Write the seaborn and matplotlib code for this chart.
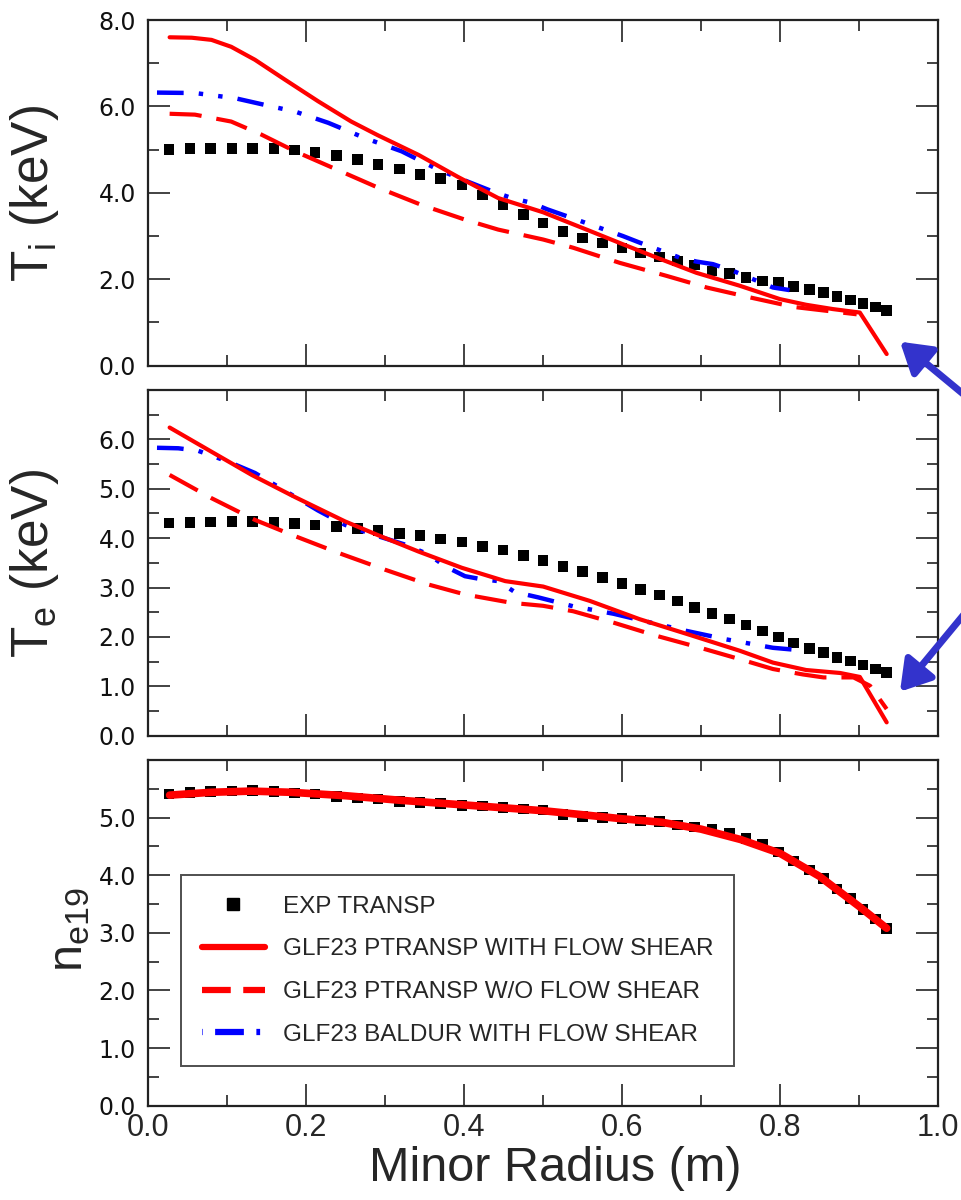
import numpy as np
import pandas as pd
import matplotlib
matplotlib.use("Agg")
import matplotlib.pyplot as plt
import matplotlib.font_manager as fm
from matplotlib.lines import Line2D
from matplotlib.ticker import MultipleLocator, FormatStrFormatter, FuncFormatter
import seaborn as sns

# ---------------- data ----------------
exp_r = [0.026, 0.053, 0.079, 0.106, 0.132, 0.159, 0.185, 0.211, 0.238, 0.265,
         0.291, 0.318, 0.344, 0.370, 0.397, 0.423, 0.449, 0.475, 0.500, 0.525,
         0.550, 0.575, 0.600, 0.623, 0.647, 0.670, 0.692, 0.714, 0.736, 0.757,
         0.778, 0.798, 0.817, 0.837, 0.855, 0.872, 0.889, 0.905, 0.921, 0.935]
exp_ti = [5.00, 5.02, 5.02, 5.03, 5.03, 5.02, 4.99, 4.94, 4.87, 4.77,
          4.66, 4.55, 4.43, 4.33, 4.18, 3.95, 3.72, 3.50, 3.30, 3.10,
          2.96, 2.84, 2.72, 2.61, 2.52, 2.42, 2.33, 2.19, 2.13, 2.04,
          1.96, 1.92, 1.83, 1.77, 1.69, 1.60, 1.52, 1.44, 1.36, 1.28]
exp_te = [4.31, 4.32, 4.33, 4.34, 4.34, 4.32, 4.30, 4.27, 4.24, 4.19,
          4.16, 4.10, 4.05, 3.98, 3.92, 3.83, 3.76, 3.65, 3.55, 3.43,
          3.32, 3.20, 3.08, 2.96, 2.85, 2.73, 2.60, 2.48, 2.36, 2.24,
          2.12, 2.00, 1.88, 1.77, 1.68, 1.58, 1.51, 1.43, 1.35, 1.28]
exp_ne = [5.41, 5.44, 5.45, 5.46, 5.47, 5.45, 5.43, 5.41, 5.37, 5.34,
          5.32, 5.28, 5.26, 5.24, 5.21, 5.20, 5.18, 5.15, 5.13, 5.05,
          5.02, 5.00, 4.98, 4.95, 4.93, 4.87, 4.84, 4.80, 4.72, 4.64,
          4.54, 4.40, 4.25, 4.09, 3.94, 3.76, 3.60, 3.41, 3.24, 3.08]

# Ti: PTRANSP with flow shear
ti_ws_r = [0.027, 0.055, 0.080, 0.105, 0.135, 0.173, 0.215, 0.257, 0.291, 0.342,
           0.392, 0.443, 0.500, 0.559, 0.601, 0.644, 0.694, 0.749, 0.800, 0.833,
           0.867, 0.901, 0.935]
ti_ws = [7.60, 7.59, 7.54, 7.38, 7.08, 6.62, 6.12, 5.65, 5.33, 4.88,
         4.37, 3.88, 3.55, 3.12, 2.81, 2.50, 2.15, 1.85, 1.54, 1.41,
         1.31, 1.23, 0.27]
# Ti: PTRANSP w/o flow shear
ti_wo_r = [0.027, 0.059, 0.105, 0.143, 0.186, 0.241, 0.291, 0.346, 0.401, 0.443,
           0.500, 0.538, 0.597, 0.656, 0.707, 0.762, 0.817, 0.859, 0.897]
ti_wo = [5.83, 5.81, 5.65, 5.35, 4.96, 4.52, 4.12, 3.72, 3.38, 3.15,
         2.92, 2.73, 2.38, 2.08, 1.81, 1.58, 1.36, 1.27, 1.19]
# Ti: BALDUR with flow shear
ti_bd_r = [0.011, 0.059, 0.110, 0.156, 0.186, 0.228, 0.274, 0.321, 0.346, 0.367,
           0.392, 0.435, 0.460, 0.485, 0.505, 0.530, 0.601, 0.622, 0.673, 0.694,
           0.715, 0.741, 0.766, 0.791, 0.812]
ti_bd = [6.32, 6.31, 6.19, 6.00, 5.88, 5.62, 5.27, 4.96, 4.73, 4.54,
         4.35, 4.04, 3.88, 3.77, 3.62, 3.46, 3.00, 2.85, 2.50, 2.41,
         2.35, 2.19, 2.00, 1.81, 1.75]

# Te: PTRANSP with flow shear
te_ws_r = [0.027, 0.080, 0.131, 0.186, 0.249, 0.291, 0.342, 0.397, 0.452, 0.500,
           0.559, 0.622, 0.686, 0.749, 0.791, 0.833, 0.876, 0.901, 0.935]
te_ws = [6.24, 5.75, 5.28, 4.83, 4.34, 4.06, 3.73, 3.40, 3.13, 3.02,
         2.73, 2.36, 2.04, 1.72, 1.48, 1.33, 1.27, 1.19, 0.27]
# Te: PTRANSP w/o flow shear
te_wo_r = [0.027, 0.080, 0.135, 0.186, 0.241, 0.300, 0.355, 0.401, 0.460, 0.500,
           0.538, 0.589, 0.644, 0.699, 0.749, 0.791, 0.829, 0.855, 0.893, 0.914,
           0.935]
te_wo = [5.28, 4.81, 4.37, 4.04, 3.70, 3.36, 3.06, 2.86, 2.69, 2.63,
         2.52, 2.29, 2.02, 1.78, 1.55, 1.35, 1.24, 1.18, 1.18, 1.01,
         0.54]
# Te: BALDUR with flow shear
te_bd_r = [0.011, 0.038, 0.063, 0.101, 0.135, 0.173, 0.215, 0.249, 0.283, 0.325,
           0.355, 0.376, 0.401, 0.418, 0.443, 0.464, 0.494, 0.538, 0.589, 0.631,
           0.682, 0.732, 0.791, 0.833]
te_bd = [5.83, 5.82, 5.77, 5.55, 5.32, 4.96, 4.56, 4.27, 4.08, 3.87,
         3.67, 3.43, 3.23, 3.18, 3.13, 2.91, 2.80, 2.62, 2.47, 2.31,
         2.12, 1.95, 1.78, 1.72]

# ne (model, all runs overlap)
ne_r = [0.027, 0.080, 0.130, 0.180, 0.250, 0.320, 0.400, 0.500, 0.600, 0.650,
        0.700, 0.750, 0.800, 0.850, 0.900, 0.935]
ne_m = [5.39, 5.44, 5.46, 5.44, 5.38, 5.30, 5.22, 5.12, 4.98, 4.92,
        4.80, 4.62, 4.38, 3.98, 3.46, 3.08]

legend_labels = ["EXP TRANSP", "GLF23 PTRANSP WITH FLOW SHEAR",
                 "GLF23 PTRANSP W/O FLOW SHEAR", "GLF23 BALDUR WITH FLOW SHEAR"]
x_ticks = [0.0, 0.2, 0.4, 0.6, 0.8, 1.0]

# ---------------- style ----------------
sns.set_style("ticks")
names = {f.name for f in fm.fontManager.ttflist}
NARROW = "Liberation Sans Narrow" if "Liberation Sans Narrow" in names else "Liberation Sans"
plt.rcParams["font.family"] = [NARROW, "DejaVu Sans"]
plt.rcParams["mathtext.default"] = "regular"

RED = "#ff0000"
BLUE = "#0000ff"
DASH_RED = (0, (7.7, 3.6))
DASH_BLUE = (0, (6, 3.4, 1, 3.4, 1, 3.4))

fig = plt.figure(figsize=(9.62, 12), dpi=100)
W, H = 962.0, 1200.0
left, right = 148.3, 938.0
panels = [(20, 365.7), (390, 735.7), (760, 1105.7)]
axes = []
for top, bot in panels:
    axes.append(fig.add_axes([left / W, (H - bot) / H, (right - left) / W, (bot - top) / H]))

def style_axis(ax, ymax, ymaj, ymin, label_top):
    ax.set_xlim(0, 1.0)
    ax.set_ylim(0, ymax)
    ax.xaxis.set_major_locator(MultipleLocator(0.2))
    ax.xaxis.set_minor_locator(MultipleLocator(0.1))
    ax.yaxis.set_major_locator(MultipleLocator(ymaj))
    ax.yaxis.set_minor_locator(MultipleLocator(ymin))
    ax.yaxis.set_major_formatter(FuncFormatter(
        lambda v, p: "" if (v > ymax - 1e-6 and not label_top) else f"{v:.1f}"))
    ax.xaxis.set_major_formatter(FormatStrFormatter("%.1f"))
    ax.tick_params(which="both", direction="in", top=True, right=True,
                   color="#222222", width=1.2)
    ax.tick_params(which="major", length=15.5)
    ax.tick_params(which="minor", length=8)
    for sp in ax.spines.values():
        sp.set_visible(True)
        sp.set_linewidth(1.6)
        sp.set_color("#222222")
    for lab in ax.get_yticklabels():
        lab.set_fontfamily("DejaVu Sans")
        lab.set_fontsize(17)
        lab.set_color("#111111")
    ax.tick_params(axis="y", pad=9)
    ax.set_xlabel("")
    ax.set_ylabel("")

def draw_exp(ax, y):
    sns.scatterplot(x=exp_r, y=y, marker="s", s=58, color="black",
                    edgecolor="none", ax=ax, zorder=2, legend=False)

# Top panel: Ti
ax = axes[0]
draw_exp(ax, exp_ti)
sns.lineplot(x=ti_wo_r, y=ti_wo, sort=False, estimator=None, color=RED, lw=3.0,
             linestyle=DASH_RED, ax=ax, zorder=3)
sns.lineplot(x=ti_bd_r, y=ti_bd, sort=False, estimator=None, color=BLUE, lw=3.2,
             linestyle=DASH_BLUE, ax=ax, zorder=3)
sns.lineplot(x=ti_ws_r, y=ti_ws, sort=False, estimator=None, color=RED, lw=3.0,
             ax=ax, zorder=4)
style_axis(ax, 8.0, 2.0, 1.0, True)
ax.set_xticklabels([])

# Middle panel: Te
ax = axes[1]
draw_exp(ax, exp_te)
sns.lineplot(x=te_wo_r, y=te_wo, sort=False, estimator=None, color=RED, lw=3.0,
             linestyle=DASH_RED, ax=ax, zorder=3)
sns.lineplot(x=te_bd_r, y=te_bd, sort=False, estimator=None, color=BLUE, lw=3.2,
             linestyle=DASH_BLUE, ax=ax, zorder=3)
sns.lineplot(x=te_ws_r, y=te_ws, sort=False, estimator=None, color=RED, lw=3.0,
             ax=ax, zorder=4)
style_axis(ax, 7.0, 1.0, 0.5, False)
ax.set_xticklabels([])

# Bottom panel: ne
ax = axes[2]
draw_exp(ax, exp_ne)
sns.lineplot(x=ne_r, y=ne_m, sort=False, estimator=None, color=RED, lw=5.5,
             ax=ax, zorder=4)
style_axis(ax, 6.0, 1.0, 0.5, False)
ax.set_xticks(x_ticks)
ax.set_xticklabels([f"{v:.1f}" for v in x_ticks], fontsize=22, fontfamily=NARROW)
ax.tick_params(axis="x", pad=5)
ax.set_xlabel("Minor Radius (m)", fontsize=35, fontfamily=NARROW, labelpad=2)
ax.xaxis.set_label_coords((555 - left) / (right - left), -0.118)
ax.xaxis.label.set_va("top")

handles = [
    Line2D([], [], marker="s", color="black", linestyle="none", markersize=8),
    Line2D([], [], color=RED, lw=4.5),
    Line2D([], [], color=RED, lw=4.5, linestyle=(0, (4.6, 2.0))),
    Line2D([], [], color=BLUE, lw=4.5, linestyle=(0.5, (0.6, 2.0, 4.6, 2.0))),
]
leg = ax.legend(handles, legend_labels, loc="upper left",
                bbox_to_anchor=(0.0414, 0.667), borderaxespad=0,
                frameon=True, fancybox=False, edgecolor="#222222",
                prop={"family": NARROW, "size": 17.5},
                handlelength=2.6, handletextpad=0.75, borderpad=0.85,
                labelspacing=0.85, numpoints=1)
leg.get_frame().set_linewidth(1.4)

# y labels
fig.text(35 / W, 1 - 193 / H, "T$_i$ (keV)", rotation=90, ha="center", va="center",
         fontsize=37, fontfamily="Liberation Sans")
fig.text(35 / W, 1 - 563 / H, "T$_e$ (keV)", rotation=90, ha="center", va="center",
         fontsize=37, fontfamily="Liberation Sans")
fig.text(70 / W, 1 - 930 / H, "n$_{e19}$", rotation=90, ha="center", va="center",
         fontsize=35, fontfamily="Liberation Sans")

# arrows pointing at edge values
arrow_kw = dict(arrowstyle="-|>,head_length=0.45,head_width=0.28", lw=5,
                color="#3333cc", mutation_scale=40, shrinkA=0, shrinkB=0)
fig.add_artist(matplotlib.patches.FancyArrowPatch((985, H - 412), (900, H - 341.7),
               transform=None, **arrow_kw))
fig.add_artist(matplotlib.patches.FancyArrowPatch((985, H - 589), (900, H - 691.7),
               transform=None, **arrow_kw))

fig.savefig("out.png", dpi=100)
